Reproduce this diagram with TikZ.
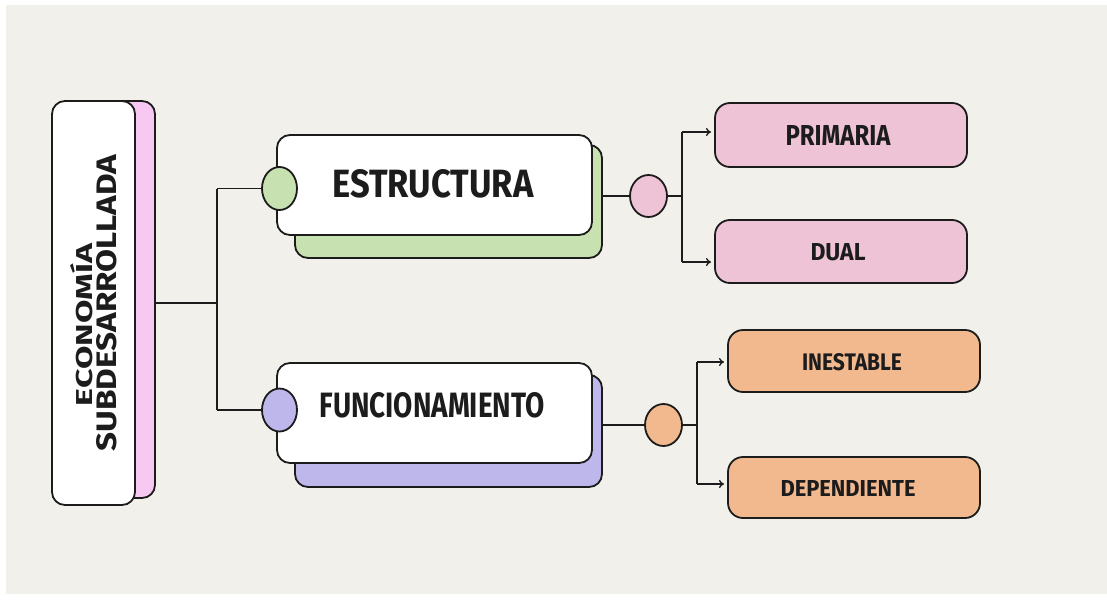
\documentclass[tikz,border=0pt]{standalone}
\usepackage{fontspec}
\usepackage{graphicx}
\setmainfont{Fira Sans}
\usetikzlibrary{arrows.meta,shapes.geometric}
\definecolor{bg}{HTML}{F1F0EB}
\definecolor{ink}{HTML}{1C1C1C}
\definecolor{pinkmain}{HTML}{F6C8F2}
\definecolor{greenS}{HTML}{C8E1B1}
\definecolor{purpleS}{HTML}{BDB7EB}
\definecolor{pinkS}{HTML}{EFC3D6}
\definecolor{orangeS}{HTML}{F2B98F}
\newcommand{\hwtext}[3]{\resizebox{#1pt}{#2pt}{\bfseries #3}}
\begin{document}
\begin{tikzpicture}[x=1pt,y=-1pt,
  box/.style={draw=ink, line width=1.8pt, rounded corners=13pt, inner sep=0pt},
  leaf/.style={draw=ink, line width=1.8pt, rounded corners=15pt, inner sep=0pt, minimum width=252pt},
  dot/.style={draw=ink, line width=1.8pt, ellipse, inner sep=0pt, minimum width=35pt, minimum height=43pt},
  conn/.style={draw=ink, line width=1.5pt},
  arr/.style={draw=ink, line width=1.3pt, -{To[length=5pt,width=8pt]}},
  lbl/.style={inner sep=0pt, text=ink}]
\useasboundingbox (0,0) rectangle (1107,599);
\fill[white] (0,0) rectangle (1107,599);
\fill[bg] (6,5) rectangle (1107,594);

% main node
\node[box, fill=pinkmain, minimum width=85pt, minimum height=397pt] (mainS) at (112.5,299.5) {};
\node[box, fill=white, minimum width=83pt, minimum height=404pt] (mainW) at (93.5,303) {};
\node[lbl, rotate=90] (t1) at (82,325) {\hwtext{162}{22}{ECONOMÍA}};
\node[lbl, rotate=90] (t2) at (107,303) {\hwtext{297}{20}{SUBDESARROLLADA}};

% estructura
\node[box, fill=greenS, minimum width=307pt, minimum height=113pt] (estS) at (448.5,201.5) {};
\node[box, fill=white, minimum width=315pt, minimum height=100pt] (estW) at (434.5,185) {};
\node[lbl] (estT) at (433,184) {\hwtext{201}{28}{ESTRUCTURA}};
\node[dot, fill=greenS] (c1) at (279.5,188.5) {};

% funcionamiento
\node[box, fill=purpleS, minimum width=307pt, minimum height=112pt] (funS) at (448.5,431) {};
\node[box, fill=white, minimum width=315pt, minimum height=100pt] (funW) at (434.5,413) {};
\node[lbl] (funT) at (432,405) {\hwtext{225}{25}{FUNCIONAMIENTO}};
\node[dot, fill=purpleS] (c2) at (279.5,410) {};

% left tree
\coordinate (j1) at (217,303);
\draw[conn] (mainS.east |- j1) -- (j1);
\draw[conn] (j1 |- c1) -- (j1 |- c2);
\draw[conn] (j1 |- c1) -- (c1.west);
\draw[conn] (j1 |- c2) -- (c2.west);

% right: estructura branch
\node[dot, fill=pinkS, minimum width=37pt, minimum height=42pt] (p1) at (648.5,196) {};
\node[leaf, fill=pinkS, minimum height=64pt] (prim) at (841,135) {};
\node[lbl] (primT) at (838,135) {\hwtext{105}{20}{PRIMARIA}};
\node[leaf, fill=pinkS, minimum height=63pt] (dual) at (841,251.5) {};
\node[lbl] (dualT) at (838,252) {\hwtext{55}{17}{DUAL}};
\coordinate (j2) at (682,196);
\coordinate (a1) at (711,132);
\coordinate (a2) at (711,262);
\draw[conn] (estS.east |- p1) -- (p1.west);
\draw[conn] (p1.east) -- (j2);
\draw[conn] (j2 |- a1) -- (j2 |- a2);
\draw[arr] (j2 |- a1) -- (a1);
\draw[arr] (j2 |- a2) -- (a2);

% right: funcionamiento branch
\node[dot, fill=orangeS, minimum width=37pt, minimum height=42pt] (p2) at (663.5,425) {};
\node[leaf, fill=orangeS, minimum height=62pt] (ines) at (854,361) {};
\node[lbl] (inesT) at (852,362) {\hwtext{100}{17}{INESTABLE}};
\node[leaf, fill=orangeS, minimum height=61pt] (dep) at (854,487.5) {};
\node[lbl] (depT) at (848,488) {\hwtext{135}{16}{DEPENDIENTE}};
\coordinate (j3) at (697,425);
\coordinate (a3) at (724,362);
\coordinate (a4) at (724,484);
\draw[conn] (funS.east |- p2) -- (p2.west);
\draw[conn] (p2.east) -- (j3);
\draw[conn] (j3 |- a3) -- (j3 |- a4);
\draw[arr] (j3 |- a3) -- (a3);
\draw[arr] (j3 |- a4) -- (a4);
\end{tikzpicture}
\end{document}
